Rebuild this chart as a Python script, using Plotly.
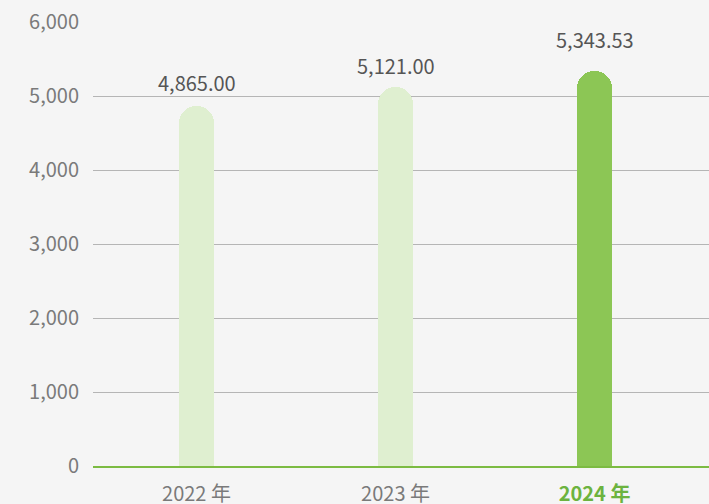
import plotly.graph_objects as go

categories = ["2022 年", "2023 年", "2024 年"]
values = [4865.00, 5121.00, 5343.53]
value_labels = ["4,865.00", "5,121.00", "5,343.53"]
y_tick_vals = [0, 1000, 2000, 3000, 4000, 5000, 6000]
y_tick_text = ["0", "1,000", "2,000", "3,000", "4,000", "5,000", "6,000"]

light = "#dfefd0"
dark = "#8cc655"
accent = "#6cb33f"
bg = "#f5f5f5"
font_family = "Noto Sans CJK SC, Noto Sans, sans-serif"

bar_colors = [light, light, dark]
x_tick_text = [categories[0], categories[1],
               f"<b><span style='color:{accent}'>{categories[2]}</span></b>"]

fig = go.Figure()
fig.add_trace(go.Bar(
    x=categories, y=values,
    marker=dict(color=bar_colors, line=dict(width=0), cornerradius=18),
    width=0.176,
    hoverinfo="skip",
))

label_shifts = [7, 5, 15]
for c, v, t, s in zip(categories, values, value_labels, label_shifts):
    fig.add_annotation(x=c, y=v, text=t, showarrow=False, yanchor="bottom",
                       yshift=s, font=dict(size=20, color="#555555", family=font_family))

fig.update_layout(
    width=709, height=504,
    margin=dict(l=93, r=0, t=22, b=38, autoexpand=False),
    paper_bgcolor=bg, plot_bgcolor=bg,
    showlegend=False,
    font=dict(family=font_family, color="#7a7a7a", size=20),
    bargap=0,
)
fig.update_xaxes(
    type="category", range=[-0.52, 2.575],
    tickvals=categories, ticktext=x_tick_text,
    showgrid=False, zeroline=False, automargin=False,
    showline=True, linecolor="#7cbb42", linewidth=1.5,
    ticks="", ticklabelstandoff=9,
    tickfont=dict(size=20, color="#7a7a7a", family=font_family),
)
fig.update_yaxes(
    range=[0, 6000], tickvals=y_tick_vals, ticktext=y_tick_text,
    showgrid=True, gridcolor="#b5b5b5", gridwidth=1,
    zeroline=False, showline=False, ticks="", automargin=False,
    ticklabelstandoff=13,
    tickfont=dict(size=20, color="#7a7a7a", family=font_family),
)

fig.write_html(
    "out.html",
    config={"displayModeBar": False},
    post_script=f"document.body.style.margin='0';document.body.style.background='{bg}';",
)
